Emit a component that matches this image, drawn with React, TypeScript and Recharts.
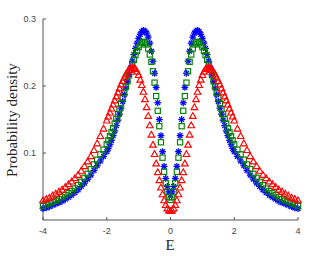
import { ScatterChart, Scatter, XAxis, YAxis } from "recharts"

const energies = [
  -4, -3.9, -3.8, -3.7, -3.6, -3.5, -3.4, -3.3, -3.2, -3.1, -3, -2.9, -2.8, -2.7, -2.6, -2.5, -2.4, -2.3, -2.2, -2.1,
  -2, -1.95, -1.9, -1.85, -1.8, -1.75, -1.7, -1.65, -1.6, -1.55, -1.5, -1.45, -1.4, -1.35, -1.3, -1.25, -1.2, -1.15, -1.1, -1.05,
  -1, -0.95, -0.9, -0.85, -0.8, -0.75, -0.7, -0.65, -0.6, -0.55, -0.5, -0.45, -0.4, -0.35, -0.3, -0.25, -0.2, -0.15, -0.1, -0.05,
  0, 0.05, 0.1, 0.15, 0.2, 0.25, 0.3, 0.35, 0.4, 0.45, 0.5, 0.55, 0.6, 0.65, 0.7, 0.75, 0.8, 0.85, 0.9, 0.95,
  1, 1.05, 1.1, 1.15, 1.2, 1.25, 1.3, 1.35, 1.4, 1.45, 1.5, 1.55, 1.6, 1.65, 1.7, 1.75, 1.8, 1.85, 1.9, 1.95,
  2, 2.1, 2.2, 2.3, 2.4, 2.5, 2.6, 2.7, 2.8, 2.9, 3, 3.1, 3.2, 3.3, 3.4, 3.5, 3.6, 3.7, 3.8, 3.9, 4,
]

// blue asterisks
const blueValues = [
  0.017, 0.018, 0.020, 0.022, 0.024, 0.026, 0.028, 0.031, 0.034, 0.037, 0.041, 0.045, 0.050, 0.055, 0.061, 0.067, 0.074, 0.081, 0.088, 0.095,
  0.102, 0.107, 0.113, 0.119, 0.126, 0.133, 0.141, 0.149, 0.158, 0.167, 0.177, 0.187, 0.197, 0.207, 0.217, 0.227, 0.237, 0.247, 0.256, 0.264,
  0.271, 0.277, 0.281, 0.283, 0.282, 0.279, 0.273, 0.264, 0.252, 0.237, 0.219, 0.198, 0.175, 0.150, 0.126, 0.102, 0.080, 0.062, 0.050, 0.042,
  0.038, 0.042, 0.050, 0.062, 0.080, 0.102, 0.126, 0.150, 0.175, 0.198, 0.219, 0.237, 0.252, 0.264, 0.273, 0.279, 0.282, 0.283, 0.281, 0.277,
  0.271, 0.264, 0.256, 0.247, 0.237, 0.227, 0.217, 0.207, 0.197, 0.187, 0.177, 0.167, 0.158, 0.149, 0.141, 0.133, 0.126, 0.119, 0.113, 0.107,
  0.102, 0.095, 0.088, 0.081, 0.074, 0.067, 0.061, 0.055, 0.050, 0.045, 0.041, 0.037, 0.034, 0.031, 0.028, 0.026, 0.024, 0.022, 0.020, 0.018, 0.017,
]

// green squares
const greenValues = [
  0.021, 0.023, 0.025, 0.027, 0.029, 0.031, 0.034, 0.037, 0.040, 0.043, 0.047, 0.052, 0.057, 0.063, 0.069, 0.076, 0.083, 0.090, 0.098, 0.105,
  0.113, 0.119, 0.125, 0.131, 0.137, 0.144, 0.151, 0.158, 0.166, 0.174, 0.182, 0.190, 0.199, 0.207, 0.216, 0.224, 0.232, 0.239, 0.246, 0.252,
  0.258, 0.262, 0.265, 0.266, 0.265, 0.262, 0.256, 0.247, 0.236, 0.222, 0.205, 0.185, 0.163, 0.140, 0.116, 0.093, 0.072, 0.055, 0.042, 0.034,
  0.030, 0.034, 0.042, 0.055, 0.072, 0.093, 0.116, 0.140, 0.163, 0.185, 0.205, 0.222, 0.236, 0.247, 0.256, 0.262, 0.265, 0.266, 0.265, 0.262,
  0.258, 0.252, 0.246, 0.239, 0.232, 0.224, 0.216, 0.207, 0.199, 0.190, 0.182, 0.174, 0.166, 0.158, 0.151, 0.144, 0.137, 0.131, 0.125, 0.119,
  0.113, 0.105, 0.098, 0.090, 0.083, 0.076, 0.069, 0.063, 0.057, 0.052, 0.047, 0.043, 0.040, 0.037, 0.034, 0.031, 0.029, 0.027, 0.025, 0.023, 0.021,
]

// red triangles
const redValues = [
  0.029, 0.031, 0.033, 0.036, 0.039, 0.042, 0.045, 0.049, 0.053, 0.057, 0.062, 0.067, 0.073, 0.080, 0.087, 0.095, 0.104, 0.114, 0.125, 0.136,
  0.148, 0.154, 0.160, 0.166, 0.172, 0.178, 0.184, 0.190, 0.196, 0.202, 0.207, 0.212, 0.217, 0.221, 0.224, 0.226, 0.227, 0.227, 0.225, 0.221,
  0.216, 0.209, 0.201, 0.191, 0.180, 0.168, 0.155, 0.141, 0.127, 0.112, 0.098, 0.084, 0.071, 0.059, 0.048, 0.038, 0.029, 0.022, 0.017, 0.014,
  0.013, 0.014, 0.017, 0.022, 0.029, 0.038, 0.048, 0.059, 0.071, 0.084, 0.098, 0.112, 0.127, 0.141, 0.155, 0.168, 0.180, 0.191, 0.201, 0.209,
  0.216, 0.221, 0.225, 0.227, 0.227, 0.226, 0.224, 0.221, 0.217, 0.212, 0.207, 0.202, 0.196, 0.190, 0.184, 0.178, 0.172, 0.166, 0.160, 0.154,
  0.148, 0.136, 0.125, 0.114, 0.104, 0.095, 0.087, 0.080, 0.073, 0.067, 0.062, 0.057, 0.053, 0.049, 0.045, 0.042, 0.039, 0.036, 0.033, 0.031, 0.029,
]

const xTicks = [-4, -2, 0, 2, 4]
const yTicks = [0.1, 0.2, 0.3]

const toPoints = (vals: number[]) => energies.map((e, i) => ({ e, p: vals[i] }))

const axisColor = "#555"
const tickStyle = { fill: "#444", fontSize: 9, fontFamily: "Liberation Sans, Arial, sans-serif" }

function Asterisk({ cx, cy }: any) {
  const r = 3.4
  const d = 2.4
  return (
    <g stroke="#0000ff" strokeWidth={1.3}>
      <line x1={cx - r} y1={cy} x2={cx + r} y2={cy} />
      <line x1={cx} y1={cy - r} x2={cx} y2={cy + r} />
      <line x1={cx - d} y1={cy - d} x2={cx + d} y2={cy + d} />
      <line x1={cx - d} y1={cy + d} x2={cx + d} y2={cy - d} />
    </g>
  )
}

function Square({ cx, cy }: any) {
  return <rect x={cx - 2.6} y={cy - 2.6} width={5.2} height={5.2} fill="none" stroke="#008000" strokeWidth={1.15} />
}

function Triangle({ cx, cy }: any) {
  return (
    <path
      d={`M${cx},${cy - 3.6} L${cx + 3.3},${cy + 2.2} L${cx - 3.3},${cy + 2.2} Z`}
      fill="none"
      stroke="#ff0000"
      strokeWidth={1.15}
    />
  )
}

export default function App() {
  return (
    <div style={{ position: "absolute", left: 0, top: 0, width: 329, height: 256, background: "#fff" }}>
      <ScatterChart width={329} height={256} margin={{ top: 19, right: 31, bottom: 0, left: 0 }}>
        <XAxis
          xAxisId="b"
          type="number"
          dataKey="e"
          domain={[-4, 4]}
          ticks={xTicks}
          height={36}
          tickSize={-3}
          tickMargin={11}
          stroke={axisColor}
          tick={tickStyle}
        />
        <XAxis
          xAxisId="t"
          orientation="top"
          type="number"
          dataKey="e"
          domain={[-4, 4]}
          ticks={xTicks}
          height={0}
          tickSize={-3}
          tickFormatter={() => ""}
          stroke={axisColor}
        />
        <YAxis
          yAxisId="l"
          type="number"
          dataKey="p"
          domain={[0, 0.3]}
          ticks={yTicks}
          width={43}
          tickSize={-3}
          tickMargin={10}
          stroke={axisColor}
          tick={tickStyle}
        />
        <YAxis
          yAxisId="r"
          orientation="right"
          type="number"
          dataKey="p"
          domain={[0, 0.3]}
          ticks={yTicks}
          width={0}
          tickSize={-3}
          tickFormatter={() => ""}
          stroke={axisColor}
        />
        <Scatter xAxisId="b" yAxisId="l" data={toPoints(blueValues)} shape={Asterisk} isAnimationActive={false} />
        <Scatter xAxisId="b" yAxisId="l" data={toPoints(greenValues)} shape={Square} isAnimationActive={false} />
        <Scatter xAxisId="t" yAxisId="r" data={toPoints(redValues)} shape={Triangle} isAnimationActive={false} />
      </ScatterChart>
      <svg
        width={329}
        height={256}
        style={{ position: "absolute", left: 0, top: 0, pointerEvents: "none" }}
      >
        <text
          transform="translate(17,120) rotate(-90)"
          textAnchor="middle"
          fontFamily="Liberation Serif, Times New Roman, serif"
          fontSize={15}
          fill="#262626"
        >
          Probability density
        </text>
        <text
          x={170}
          y={250}
          textAnchor="middle"
          fontFamily="Liberation Serif, Times New Roman, serif"
          fontSize={15}
          fill="#262626"
        >
          E
        </text>
      </svg>
    </div>
  )
}
